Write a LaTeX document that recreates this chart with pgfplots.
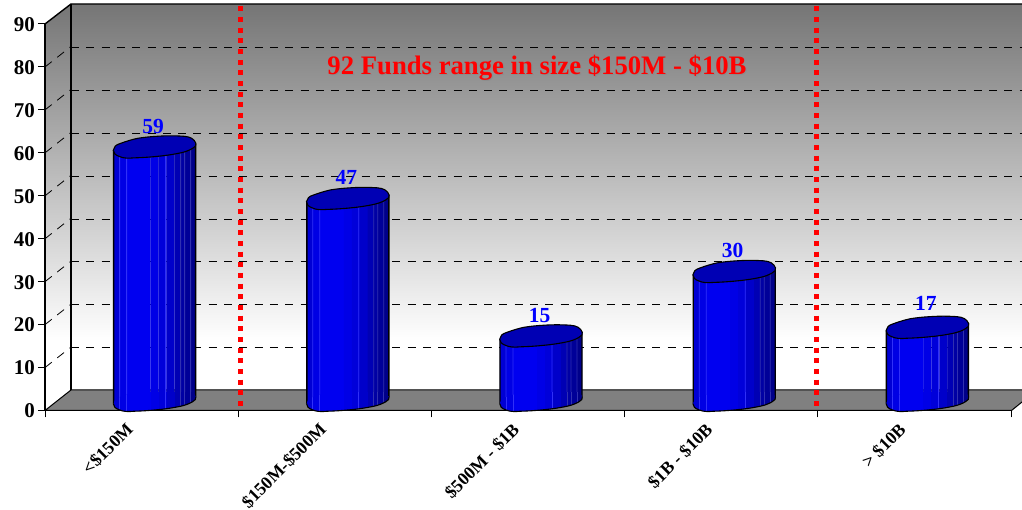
\documentclass[border=0pt]{standalone}
\usepackage{fontspec}
\setmainfont{Liberation Serif}
\usepackage{pgfplots}
\usepackage{pgfplotstable}
\pgfplotsset{compat=1.18}

% Fund counts per size bucket, placed at the middle of each category slot
\pgfplotstableread{
pos value
0.5 59
1.5 47
2.5 15
3.5 30
4.5 17
}\fundtable

\definecolor{fA}{HTML}{0000D4}
\definecolor{fB}{HTML}{0000E4}
\definecolor{fC}{HTML}{0000F0}
\definecolor{fD}{HTML}{0000E6}
\definecolor{fE}{HTML}{0000DA}
\definecolor{fF}{HTML}{0000CA}
\definecolor{fG}{HTML}{0000B4}
\definecolor{fH}{HTML}{0000A4}
\definecolor{fI}{HTML}{000098}
\definecolor{fJ}{HTML}{00008A}
\definecolor{sheenL}{HTML}{3030F8}
\definecolor{sheenD}{HTML}{3030B0}
\definecolor{capblue}{HTML}{0000B4}

% Vertical strips of one cylinder: centre offset, width, colour
\newcommand\facetlist{%
  \facet{-38pt}{6.2pt}{fA}%
  \facet{-31.5pt}{7pt}{fB}%
  \facet{-16pt}{24.2pt}{fC}%
  \facet{0pt}{8pt}{fD}%
  \facet{8pt}{8pt}{fE}%
  \facet{16pt}{8.2pt}{fF}%
  \facet{23pt}{6.2pt}{fG}%
  \facet{28pt}{4.2pt}{fH}%
  \facet{33pt}{6.2pt}{fI}%
  \facet{38.5pt}{5.2pt}{fJ}%
  \facet{-35pt}{0.8pt}{sheenL}%
  \facet{-28pt}{0.8pt}{sheenL}%
  \facet{11pt}{0.8pt}{sheenL}%
  \facet{26pt}{0.8pt}{sheenD}%
  \facet{30pt}{0.8pt}{sheenD}%
  \facet{36pt}{0.8pt}{sheenD}%
}

\newcommand\markfacet[3]{%
  \pgfpathrectangle{\pgfpoint{#1-#2/2}{-16pt}}{\pgfpoint{#2}{24pt}}%
  \pgfsetfillcolor{#3}\pgfusepathqfill}
\newcommand\barfacet[3]{%
  \addplot[ybar,bar width=#2,bar shift=#1,fill=#3,draw=none,yshift=0.08*#1,forget plot]
    table[x=pos,y=value]{\fundtable};%
}
\newcommand\qto[4]{\pgfpathquadraticcurveto{\pgfqpoint{#1pt}{#2pt}}{\pgfqpoint{#3pt}{#4pt}}}
% Slightly irregular outline of the elliptical end of a cylinder
\newcommand\capcurve{%
  \pgfpathmoveto{\pgfqpoint{-41.3pt}{-3.3pt}}%
  \qto{-41}{1.5}{-34}{3.5}\qto{-26}{6.5}{-17.3}{8.5}\qto{-8}{10}{2.7}{10.6}%
  \qto{16}{11.5}{29.3}{10.6}\qto{39}{10}{41.3}{3.5}\qto{42}{0.5}{38}{-1.5}%
  \qto{33}{-4.5}{26}{-6}\qto{14}{-8.5}{2.7}{-9.5}\qto{-9}{-10.7}{-20.7}{-11}%
  \qto{-30}{-12}{-35}{-9.7}\qto{-41.5}{-7.5}{-41.3}{-3.3}%
  \pgfpathclose}

% Elliptical cap on top of a cylinder
\pgfdeclareplotmark{cyltop}{%
  \pgfsetfillcolor{capblue}\pgfsetstrokecolor{black}\pgfsetlinewidth{1.1pt}%
  \capcurve\pgfusepathqfillstroke
}
% Curved foot of a cylinder, keeping the strips of the body
\pgfdeclareplotmark{cylbase}{%
  \begin{pgfscope}
    \capcurve\pgfusepathqclip
    \let\facet\markfacet
    \facetlist
  \end{pgfscope}
  \pgfsetstrokecolor{black}\pgfsetlinewidth{1.1pt}%
  \pgfpathmoveto{\pgfqpoint{-41.3pt}{-3.3pt}}%
  \qto{-41.5}{-7.5}{-35}{-9.7}\qto{-30}{-12}{-20.7}{-11}\qto{-9}{-10.7}{2.7}{-9.5}%
  \qto{14}{-8.5}{26}{-6}\qto{33}{-4.5}{38}{-1.5}\qto{42}{0.5}{41.3}{3.5}%
  \pgfusepathqstroke
}

\begin{document}
\begin{tikzpicture}
\path[use as bounding box] (0,0) rectangle (1022pt,510pt);

% Walls and floor of the chart box, in page coordinates measured from the top
\begin{scope}[x=1pt,y=-1pt,shift={(0pt,510pt)}]
  \begin{scope}
    \clip (45,24) -- (71,4) -- (1040,4) -- (1040,400) -- (45,411) -- cycle;
    \fill[white] (40,340) rectangle (1040,420);
    \fill[top color=black!54,bottom color=white,shading angle=0] (40,4) rectangle (1040,340.5);
  \end{scope}
  \foreach \k in {1,...,8} {
    \draw[black,line width=0.9pt,dash pattern=on 8pt off 7.3pt] (71,390.6-42.9*\k) -- (1040,390.6-42.9*\k);
    \draw[black,line width=0.8pt,dash pattern=on 8.6pt off 7pt] (45,410.5-42.94*\k) -- (71,390-42.94*\k);
  }
  \filldraw[fill=black!50,draw=black,line width=1pt]
    (45,410.5) -- (71,390) -- (1040,390) -- (1022,402) -- (1011.5,410.5) -- cycle;
  \draw[black,line width=1.4pt] (45,24) -- (71,4) -- (1040,4);
  \draw[black,line width=1.4pt] (71,4) -- (71,390);
\end{scope}

% Front frame with the scales and the two red dividers
\begin{axis}[
  at={(45pt,99.5pt)},anchor=south west,
  scale only axis,width=966pt,height=386.5pt,
  xmin=0,xmax=5,ymin=0,ymax=90,clip=false,
  axis x line=bottom,axis y line=left,
  axis line style={-,line width=1.2pt,black},
  xtick={0.5,1.5,2.5,3.5,4.5},
  xticklabels={{<\$150M},{\$150M-\$500M},{\$500M - \$1B},{\$1B - \$10B},{> \$10B}},
  minor xtick={0,1,2,3,4,5},
  ytick={0,10,...,90},
  tick align=outside,
  major tick length=7pt,minor tick length=7pt,
  major x tick style={draw=none},
  minor x tick style={black,line width=1pt},
  y tick style={black,line width=1pt},
  /pgf/number format/assume math mode=true,
  yticklabel style={font=\fontsize{21}{21}\selectfont\bfseries,inner sep=0pt,xshift=-3pt,yshift=-0.5pt},
  xticklabel style={font=\fontsize{17.8}{17.8}\selectfont\bfseries,rotate=45,anchor=north east,inner sep=0pt,xshift=-14.6pt,yshift=9.1pt},
]
\addplot[red,line width=5pt,dash pattern=on 5pt off 5.66pt,forget plot]
  coordinates {(1.011,94.08) (1.011,1.05)};
\addplot[red,line width=5pt,dash pattern=on 5pt off 5.66pt,forget plot]
  coordinates {(3.994,94.08) (3.994,1.05)};
\end{axis}

% Cylinders stand half way into the box, so this layer sits slightly up and right
\begin{axis}[
  at={(58pt,109.75pt)},anchor=south west,
  scale only axis,width=966pt,height=386.5pt,
  xmin=0,xmax=5,ymin=0,ymax=90,clip=false,
  axis lines=none,
]
\addplot[only marks,mark=cylbase,forget plot] table[x=pos,y expr=0]{\fundtable};
\let\facet\barfacet
\facetlist
\barfacet{-41pt}{1.4pt}{black}
\barfacet{41pt}{1.4pt}{black}
\addplot[only marks,mark=cyltop,forget plot,point meta=y,
  nodes near coords,
  coordinate style/.condition={y==17}{yshift=3.5pt},
  nodes near coords style={font=\fontsize{21.5}{21.5}\selectfont\bfseries,text=blue,anchor=center,yshift=20.5pt,xshift=-1.5pt,
    /pgf/number format/assume math mode=true}]
  table[x=pos,y=value]{\fundtable};
\end{axis}

% Headline
\begin{scope}[x=1pt,y=-1pt,shift={(0pt,510pt)}]
  \node[font=\fontsize{26.7}{26.7}\selectfont\bfseries,text=black!45] at (538.2,69.2) {92 Funds range in size \$150M - \$10B};
  \node[font=\fontsize{26.7}{26.7}\selectfont\bfseries,text=red] at (537,68) {92 Funds range in size \$150M - \$10B};
\end{scope}
\end{tikzpicture}
\end{document}
